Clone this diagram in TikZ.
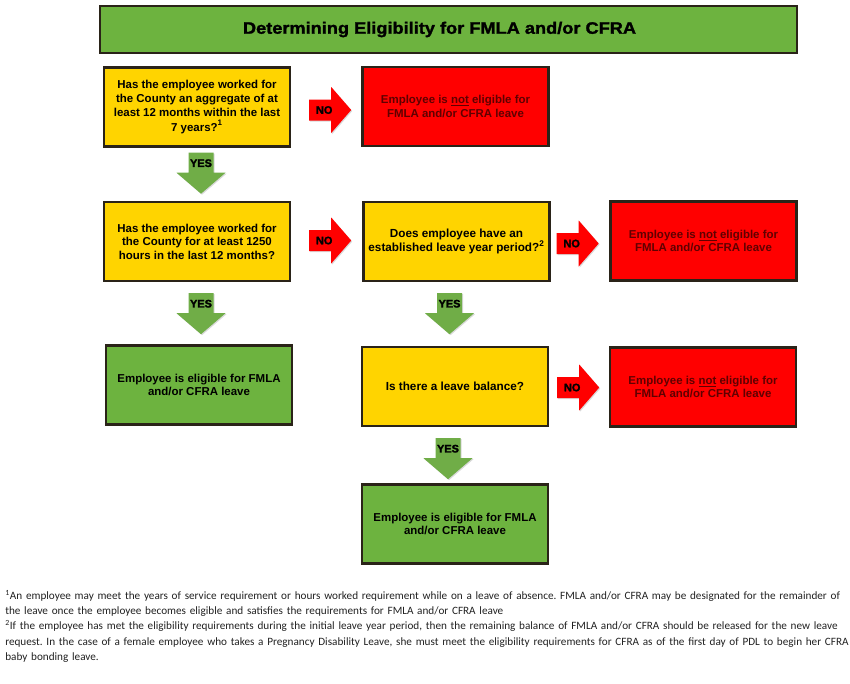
\documentclass[tikz,border=0pt]{standalone}
\usepackage{fontspec}
\setmainfont{Liberation Sans}
\newfontfamily\footfont{Carlito}
\newfontfamily\heavyfont[FakeBold=1.8]{Liberation Sans}
\newfontfamily\titlefont[FakeBold=1.6,FakeStretch=1.1]{Liberation Sans}
\usetikzlibrary{calc,shadows}
\definecolor{qyellow}{HTML}{FFD400}
\definecolor{rred}{HTML}{FF0000}
\definecolor{ggreen}{HTML}{6DB33F}
\definecolor{agreen}{HTML}{70AD47}
\definecolor{boxline}{HTML}{2A2318}
\definecolor{redtext}{HTML}{600000}
\definecolor{foottext}{HTML}{222222}
\tikzset{
  box/.style={draw=boxline, line width=1.8pt, minimum width=186*0.75pt, minimum height=79*0.75pt,
    inner sep=2pt, align=center,
    font=\bfseries\fontsize{8.6}{10.2}\selectfont,
    drop shadow={shadow xshift=0.8pt, shadow yshift=-0.8pt, opacity=0.45, fill=black}},
  qbox/.style={box, fill=qyellow},
  rbox/.style={box, fill=rred, text=redtext},
  gbox/.style={box, fill=ggreen},
  arrtxt/.style={font=\heavyfont\bfseries\fontsize{8.2}{9}\selectfont, inner sep=0pt, text=black},
  pics/yesarr/.style={code={
    \fill[black, opacity=0.15] (-11.5,1) -- (13.5,1) -- (13.5,21) -- (25.5,21) -- (1,42) -- (-23.5,21) -- (-11.5,21) -- cycle;
    \fill[agreen] (-12.5,0) -- (12.5,0) -- (12.5,20) -- (24.5,20) -- (0,41) -- (-24.5,20) -- (-12.5,20) -- cycle;
    \node[arrtxt] at (0,10.5) {YES};
  }},
  pics/noarr/.style={code={
    \fill[black, opacity=0.15] (1,-9.5) -- (23,-9.5) -- (23,-22) -- (43,1) -- (23,24) -- (23,11.5) -- (1,11.5) -- cycle;
    \fill[rred] (0,-10.5) -- (22,-10.5) -- (22,-23) -- (42,0) -- (22,23) -- (22,10.5) -- (0,10.5) -- cycle;
    \node[arrtxt] at (15,0) {NO};
  }}
}
\begin{document}
\begin{tikzpicture}[x=0.75pt,y=-0.75pt]
\fill[white] (0,0) rectangle (850,683);
\useasboundingbox (0,0) rectangle (850,683);

\node[box, fill=ggreen, minimum width=697*0.75pt, minimum height=47*0.75pt,
  font=\titlefont\bfseries\fontsize{12.4}{14}\selectfont] (title) at (448.5,29.5) {Determining Eligibility for FMLA and/or CFRA\hspace*{13.5pt}};

\node[qbox] (q1) at (197,107) {Has the employee worked for\\ the County an aggregate of at\\ least 12 months within the last\\[1pt] 7 years?\textsuperscript{1}};
\node[rbox] (r1) at (455.5,106.5) {Employee is \underline{not} eligible for\\ FMLA and/or CFRA leave};

\node[qbox] (q2) at (197,241.5) {Has the employee worked for\\ the County for at least 1250\\ hours in the last 12 months?};
\node[qbox, font=\bfseries\fontsize{8.8}{11}\selectfont] (q3) at (456.5,241.5) {Does employee have an\\ established leave year period?\textsuperscript{2}};
\node[rbox] (r2) at (703.5,241) {Employee is \underline{not} eligible for\\ FMLA and/or CFRA leave};

\node[gbox] (g1) at (199,385) {Employee is eligible for FMLA\\ and/or CFRA leave};
\node[qbox, font=\bfseries\fontsize{8.8}{10.6}\selectfont] (q4) at (455,386.5) {Is there a leave balance?};
\node[rbox] (r3) at (703,387) {Employee is \underline{not} eligible for\\ FMLA and/or CFRA leave};

\node[gbox] (g2) at (455,524) {Employee is eligible for FMLA\\ and/or CFRA leave};

% NO arrows
\pic at ($(q1.east)+(18,3)$) {noarr};
\pic at ($(q2.east)+(18,-1)$) {noarr};
\pic at ($(q3.east)+(6,2)$) {noarr};
\pic at ($(q4.east)+(8,1)$) {noarr};

% YES arrows
\pic at ($(q1.south)+(4,5)$) {yesarr};
\pic at ($(q2.south)+(4,11)$) {yesarr};
\pic at ($(q3.south)+(-7,11)$) {yesarr};
\pic at ($(q4.south)+(-7,11)$) {yesarr};

\node[anchor=north west, inner sep=0pt, text width=845*0.75pt, align=left, text=foottext,
  font=\footfont\frenchspacing\fontsize{8.4}{11.5}\selectfont] (notes) at (5,590) {%
\textsuperscript{1}An employee may meet the years of service requirement or hours worked requirement while on a leave of absence. FMLA and/or CFRA may be designated for the remainder of\\
the leave once the employee becomes eligible and satisfies the requirements for FMLA and/or CFRA leave\\
\textsuperscript{2}If the employee has met the eligibility requirements during the initial leave year period, then the remaining balance of FMLA and/or CFRA should be released for the new leave\\
request. In the case of a female employee who takes a Pregnancy Disability Leave, she must meet the eligibility requirements for CFRA as of the first day of PDL to begin her CFRA\\
baby bonding leave.};
\end{tikzpicture}
\end{document}
